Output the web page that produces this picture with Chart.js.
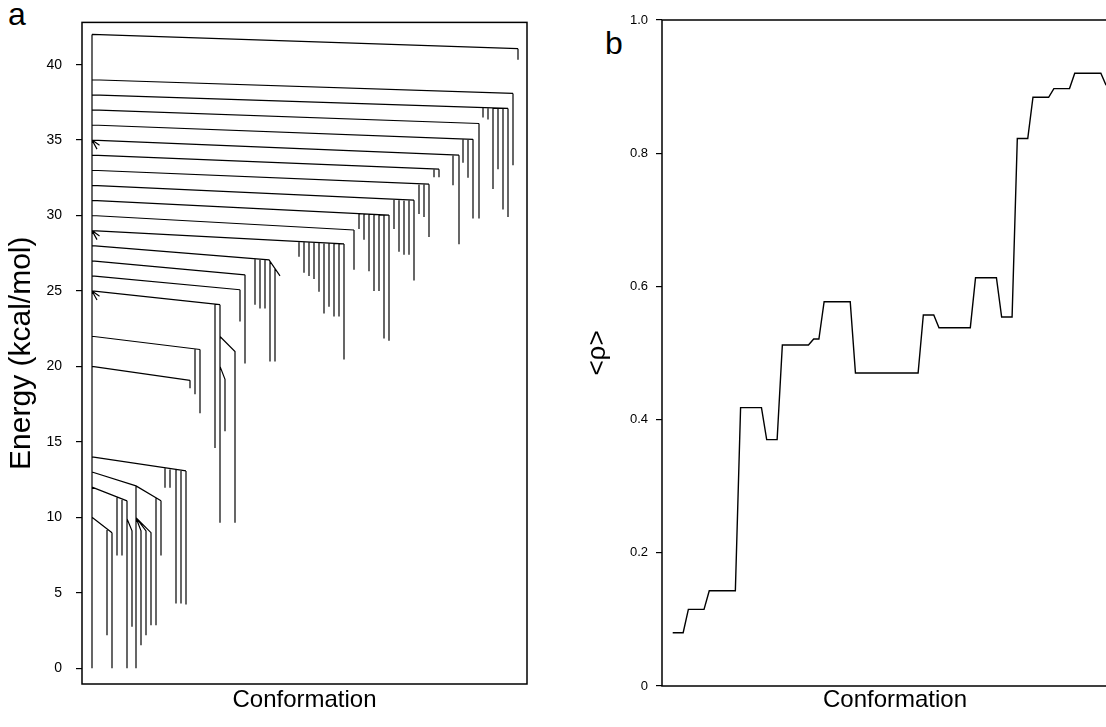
<!DOCTYPE html>
<html>
<head>
<meta charset="utf-8">
<script src="https://cdn.jsdelivr.net/npm/chart.js@4.4.1/dist/chart.umd.min.js"></script>
<style>
  body { margin: 0; background: #fff; width: 1106px; height: 727px; overflow: hidden; position: relative;
         font-family: "Liberation Sans", Arial, Helvetica, sans-serif; }
  .tag { position: absolute; font-size: 32px; line-height: 32px; color: #000; }
  #wrap_a { position: absolute; left: 0; top: 0; }
  #wrap_b { position: absolute; left: 560px; top: 0; }
</style>
</head>
<body>
<div class="tag" style="left:8px; top:-2px;">a</div>
<div class="tag" style="left:605px; top:27px;">b</div>
<div id="wrap_a"><canvas id="energy_tree" width="560" height="727"></canvas></div>
<div id="wrap_b"><canvas id="rho_line" width="600" height="727"></canvas></div>

<script>
// --- (a) disconnectivity tree ---
const energyTicks = [0, 5, 10, 15, 20, 25, 30, 35, 40];

const trunkX = 2;       // conformation slot of the trunk
const globalMin = 0;    // lowest minimum, where the trunk ends

// energy where each branch leaves the trunk (kcal/mol)
const branchTop = [42, 39, 38, 37, 36, 35, 34, 33, 32, 31, 30, 29, 28, 27, 26, 25, 22, 20, 14, 13, 12, 10];

// corners of each branch line after the trunk: [conformation, energy]
const branchPath = [
  [[87.2, 41.06]],
  [[86.2, 38.09]],
  [[85.2, 37.1]],
  [[79.4, 36.1]],
  [[78.2, 35.05]],
  [[75.4, 34.0]],
  [[71.4, 33.07]],
  [[69.4, 32.08]],
  [[66.4, 31.02]],
  [[61.4, 30.03]],
  [[54.4, 29.04]],
  [[52.4, 28.12]],
  [[37.4, 27.06], [39.6, 26.0]],
  [[32.6, 26.07]],
  [[31.6, 25.08]],
  [[27.6, 24.09]],
  [[23.6, 21.12]],
  [[21.6, 19.08]],
  [[20.8, 13.07]],
  [[10.8, 12.08], [15.8, 11.09]],
  [[9.0, 11.09]],
  [[6.0, 8.98]]
];

// minima hanging from the branches: [branch, conformation, energy]
const minima = [
  [0, 87.2, 40.33],
  [1, 86.2, 33.33],
  [2, 80.2, 36.5], [2, 81.2, 36.37], [2, 82.2, 31.75], [2, 83.2, 33.07], [2, 84.2, 30.4], [2, 85.2, 29.9],
  [3, 79.4, 29.8],
  [4, 76.2, 33.5], [4, 77.2, 32.5], [4, 78.2, 29.8],
  [5, 74.2, 32.0], [5, 75.4, 28.1],
  [6, 70.4, 32.54], [6, 71.4, 32.54],
  [7, 67.4, 30.1], [7, 68.4, 29.9], [7, 69.4, 28.58],
  [8, 62.4, 29.1], [8, 63.4, 27.6], [8, 64.4, 27.4], [8, 65.4, 27.4], [8, 66.4, 25.7],
  [9, 55.4, 29.1], [9, 56.4, 28.4], [9, 57.4, 26.3], [9, 58.4, 25.0], [9, 59.4, 25.0], [9, 60.4, 21.85], [9, 61.4, 21.7],
  [10, 54.4, 26.4],
  [11, 43.4, 27.26], [11, 44.4, 26.2], [11, 45.4, 26.0], [11, 46.4, 25.8], [11, 47.4, 24.95],
  [11, 48.4, 23.5], [11, 49.4, 23.96], [11, 50.4, 23.3], [11, 51.4, 23.3], [11, 52.4, 20.46],
  [12, 34.6, 24.09], [12, 35.6, 23.83], [12, 36.6, 23.83], [12, 37.6, 20.33], [12, 38.6, 20.33],
  [13, 32.6, 20.2],
  [14, 31.6, 22.97],
  [15, 26.6, 14.59], [15, 27.6, 9.64],
  [16, 22.6, 18.15], [16, 23.6, 16.9],
  [17, 21.6, 18.55],
  [18, 16.6, 11.95], [18, 17.6, 11.95], [18, 18.8, 4.29], [18, 19.8, 4.29], [18, 20.8, 4.22],
  [19, 10.8, 0], [19, 14.8, 2.84], [19, 15.8, 7.46],
  [20, 7.0, 7.46], [20, 8.0, 7.46], [20, 9.0, 0],
  [21, 5.0, 2.18], [21, 6.0, 0]
];

// sub-branches splitting off lower down, and the short forks at the trunk
const sideLines = [
  [[27.6, 21.98], [30.6, 20.99], [30.6, 9.64]],
  [[27.6, 20.0], [28.6, 19.14], [28.6, 15.7]],
  [[10.8, 9.97], [11.8, 9.1], [11.8, 1.52]],
  [[10.8, 9.97], [12.8, 9.1], [12.8, 2.18]],
  [[10.8, 9.97], [13.8, 8.98], [13.8, 2.84]],
  [[9.0, 9.9], [10.0, 9.1], [10.0, 2.75]],
  [[2, 35], [3.5, 34.65]], [[2, 35], [3.0, 34.4]],
  [[2, 29], [3.5, 28.65]], [[2, 29], [3.0, 28.4]],
  [[2, 25], [3.5, 24.65]], [[2, 25], [3.0, 24.4]]
];

// --- (b) mean rho along the same conformations ---
const rho = [
  0.08, 0.08, 0.08,
  0.115, 0.115, 0.115, 0.115,
  0.143, 0.143, 0.143, 0.143, 0.143, 0.143,
  0.418, 0.418, 0.418, 0.418, 0.418,
  0.37, 0.37, 0.37,
  0.512, 0.512, 0.512, 0.512, 0.512, 0.512,
  0.521, 0.521,
  0.577, 0.577, 0.577, 0.577, 0.577, 0.577,
  0.47, 0.47, 0.47, 0.47, 0.47, 0.47, 0.47, 0.47, 0.47, 0.47, 0.47, 0.47, 0.47,
  0.557, 0.557, 0.557,
  0.538, 0.538, 0.538, 0.538, 0.538, 0.538, 0.538,
  0.613, 0.613, 0.613, 0.613, 0.613,
  0.554, 0.554, 0.554,
  0.822, 0.822, 0.822,
  0.884, 0.884, 0.884, 0.884,
  0.897, 0.897, 0.897, 0.897,
  0.92, 0.92, 0.92, 0.92, 0.92, 0.92,
  0.902
];
const rhoTicks = [0, 0.2, 0.4, 0.6, 0.8, 1.0];
const rhoTickLabels = ['0', '0.2', '0.4', '0.6', '0.8', '1.0'];

const fontFamily = '"Liberation Sans", Arial, Helvetica, sans-serif';

// energy of a branch line at a given conformation
function energyOnBranch(b, x) {
  const pts = [[trunkX, branchTop[b]]].concat(branchPath[b]);
  for (let i = 1; i < pts.length; i++) {
    const [x0, e0] = pts[i - 1];
    const [x1, e1] = pts[i];
    if (x <= x1) return e0 + (e1 - e0) * (x - x0) / (x1 - x0);
  }
  return pts[pts.length - 1][1];
}

// all tree strokes go into one dataset, separated by null gaps
const treePoints = [];
function addStroke(pts) {
  pts.forEach(p => treePoints.push({x: p[0], y: p[1]}));
  treePoints.push({x: pts[pts.length - 1][0], y: null});
}
addStroke([[trunkX, branchTop[0]], [trunkX, globalMin]]);
branchTop.forEach((e, b) => addStroke([[trunkX, e]].concat(branchPath[b])));
minima.forEach(([b, x, e]) => addStroke([[x, energyOnBranch(b, x)], [x, e]]));
sideLines.forEach(addStroke);

// box round the plot area
const frame = {
  id: 'frame',
  afterDatasetsDraw(chart) {
    const {ctx, chartArea: a} = chart;
    ctx.save();
    ctx.strokeStyle = '#000';
    ctx.lineWidth = 1.5;
    ctx.strokeRect(a.left, a.top, a.right - a.left, a.bottom - a.top);
    ctx.restore();
  }
};

function xAxis(min, max, height) {
  return {
    type: 'linear', min: min, max: max,
    ticks: {display: false},
    grid: {display: false},
    border: {display: false},
    title: {display: true, text: 'Conformation', color: '#000',
            font: {family: fontFamily, size: 24}, padding: {top: 0, bottom: 12}},
    afterFit: s => { s.height = height; }
  };
}

function tree_draw() {
  let ctx = document.querySelector('#energy_tree').getContext('2d');
  new Chart(ctx, {
    type: 'line',
    data: {
      datasets: [{
        data: treePoints,
        borderColor: '#000',
        borderWidth: 1.2,
        pointRadius: 0,
        tension: 0,
        spanGaps: false
      }]
    },
    options: {
      responsive: false,
      animation: false,
      layout: {padding: {left: 0, right: 33, top: 20, bottom: 0}},
      plugins: {legend: {display: false}, tooltip: {enabled: false}},
      scales: {
        x: xAxis(0, 89, 43),
        y: {
          type: 'linear', min: -1.05, max: 42.8,
          afterBuildTicks: s => { s.ticks = energyTicks.map(v => ({value: v})); },
          ticks: {color: '#000', font: {family: fontFamily, size: 14}, padding: 14},
          grid: {drawOnChartArea: false, drawTicks: true, tickLength: 6, color: '#000', lineWidth: 1.2},
          border: {display: false},
          title: {display: true, text: 'Energy (kcal/mol)', color: '#000',
                  font: {family: fontFamily, size: 30}, padding: {top: 4, bottom: 0}},
          afterFit: s => { s.width = 82; }
        }
      }
    },
    plugins: [frame]
  });
}

function rho_draw() {
  let ctx = document.querySelector('#rho_line').getContext('2d');
  new Chart(ctx, {
    type: 'line',
    data: {
      datasets: [{
        data: rho.map((v, i) => ({x: i, y: v})),
        borderColor: '#000',
        borderWidth: 1.4,
        pointRadius: 0,
        tension: 0
      }]
    },
    options: {
      responsive: false,
      animation: false,
      layout: {padding: {left: 0, right: 32, top: 20, bottom: 0}},
      plugins: {legend: {display: false}, tooltip: {enabled: false}},
      scales: {
        x: xAxis(-2.05, 87.2, 41),
        y: {
          type: 'linear', min: 0, max: 1,
          afterBuildTicks: s => { s.ticks = rhoTicks.map(v => ({value: v})); },
          ticks: {color: '#000', font: {family: fontFamily, size: 13}, padding: 8,
                  callback: (v, i) => rhoTickLabels[i]},
          grid: {drawOnChartArea: false, drawTicks: true, tickLength: 6, color: '#000', lineWidth: 1.2},
          border: {display: false},
          title: {display: true, text: '<ρ>', color: '#000',
                  font: {family: fontFamily, size: 26}, padding: {top: 22, bottom: 0}},
          afterFit: s => { s.width = 102; }
        }
      }
    },
    plugins: [frame]
  });
}

window.onload = function () {
  tree_draw();
  rho_draw();
};
</script>
</body>
</html>
